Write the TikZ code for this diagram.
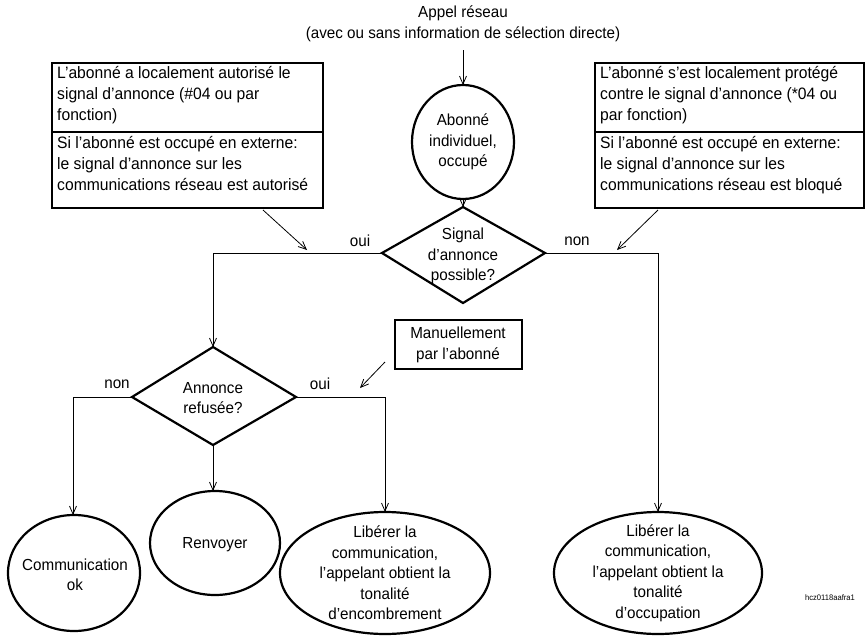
\documentclass[tikz,border=0pt]{standalone}
\usepackage{fontspec}
\setmainfont{Liberation Sans}[FakeStretch=0.95]
\usetikzlibrary{shapes.geometric,arrows.meta}
\tikzset{
	shape line/.style={line width=2.2pt},
	flow/.style={line width=0.8pt},
	arr/.style={flow,-{Straight Barb[length=8pt,width=7pt]}},
	lbl/.style={inner sep=0pt,font=\fontsize{16}{17}\selectfont},
	txt/.style={align=center,font=\fontsize{16}{20.5}\selectfont,inner sep=0pt},
	btxt/.style={align=left,anchor=north west,font=\fontsize{16.5}{21}\selectfont,inner sep=0pt},
}
\begin{document}
\begin{tikzpicture}[x=1pt,y=1pt,yscale=-1,xscale=1]
	\useasboundingbox (0,0) rectangle (865,635);
	% title and centre column
	\node[txt] (appel) at (463,24) {Appel réseau\\(avec ou sans information de sélection directe)};
	\coordinate (appelb) at (463,50);
	\draw[shape line] (463,142) ellipse [x radius=51,y radius=57];
	\node[txt] (abonne) at (463,142) {Abonné\\individuel,\\occupé};
	\coordinate (abtop) at (463,85);
	\coordinate (abbot) at (463,200);
	\draw[arr] (appelb) -- (abtop);
	\draw[shape line] (463,207) -- (545,253) -- (463,303) -- (382,253) -- cycle;
	\node[txt] (signal) at (463,256) {Signal\\d'annonce\\possible?};
	\coordinate (sigtop) at (463,207);
	\coordinate (sigl) at (382,253);
	\coordinate (sigr) at (545,253);
	\draw[arr] (abbot) -- (sigtop);
	% condition boxes
	\draw[shape line] (52,63) rectangle (323,208) (52,132) -- (323,132);
	\node[btxt] (autA) at (57,66) {L'abonné a localement autorisé le\\signal d'annonce (\#04 ou par\\fonction)};
	\node[btxt] (autB) at (57,136) {Si l'abonné est occupé en externe:\\le signal d'annonce sur les\\communications réseau est autorisé};
	\draw[shape line] (595,63) rectangle (864,208) (595,132) -- (864,132);
	\node[btxt] (blqA) at (600,66) {L'abonné s'est localement protégé\\contre le signal d'annonce (*04 ou\\par fonction)};
	\node[btxt] (blqB) at (600,136) {Si l'abonné est occupé en externe:\\le signal d'annonce sur les\\communications réseau est bloqué};
	\coordinate (autf) at (263,210);
	\coordinate (autt) at (307,250);
	\coordinate (blqf) at (658,210);
	\coordinate (blqt) at (617,250);
	\draw[arr] (autf) -- (autt);
	\draw[arr] (blqf) -- (blqt);
	\node[lbl] (oui1) at (360,241) {oui};
	\node[lbl] (non1) at (577,241) {non};
	% second decision
	\draw[shape line] (213,347) -- (296,397) -- (213,445) -- (132,397) -- cycle;
	\node[txt] (refus) at (213,398) {Annonce\\refusée?};
	\coordinate (reftop) at (213,347);
	\coordinate (refl) at (132,397);
	\coordinate (refr) at (296,397);
	\coordinate (refb) at (213,445);
	\draw[arr] (sigl) -| (reftop);
	\draw[shape line] (395,320) rectangle (522,369);
	\node[txt] (manuel) at (458,345) {Manuellement\\par l'abonné};
	\coordinate (manf) at (385,362);
	\coordinate (mant) at (360,388);
	\draw[arr] (manf) -- (mant);
	\node[lbl] (non2) at (117,384) {non};
	\node[lbl] (oui2) at (320,384) {oui};
	% end states
	\draw[shape line] (74,573) ellipse [x radius=66,y radius=58];
	\node[txt] (comok) at (75,575) {Communication\\ok};
	\draw[shape line] (215,543) ellipse [x radius=65,y radius=52];
	\node[txt] (renv) at (215,545) {Renvoyer};
	\draw[shape line] (385,573) ellipse [x radius=105,y radius=61];
	\node[txt] (encomb) at (385,573) {Libérer la\\communication,\\l'appelant obtient la\\tonalité\\d'encombrement};
	\draw[shape line] (658,573) ellipse [x radius=104,y radius=61];
	\node[txt] (occup) at (658,573) {Libérer la\\communication,\\l'appelant obtient la\\tonalité\\d'occupation};
	\draw[arr] (refl) -| (73,515);
	\draw[arr] (refb) -- (213,491);
	\draw[arr] (refr) -| (385,512);
	\draw[arr] (sigr) -| (658,512);
	\node[lbl,font=\fontsize{8}{9}\selectfont] (ref) at (830,598) {hcz0118aafra1};
\end{tikzpicture}
\end{document}
